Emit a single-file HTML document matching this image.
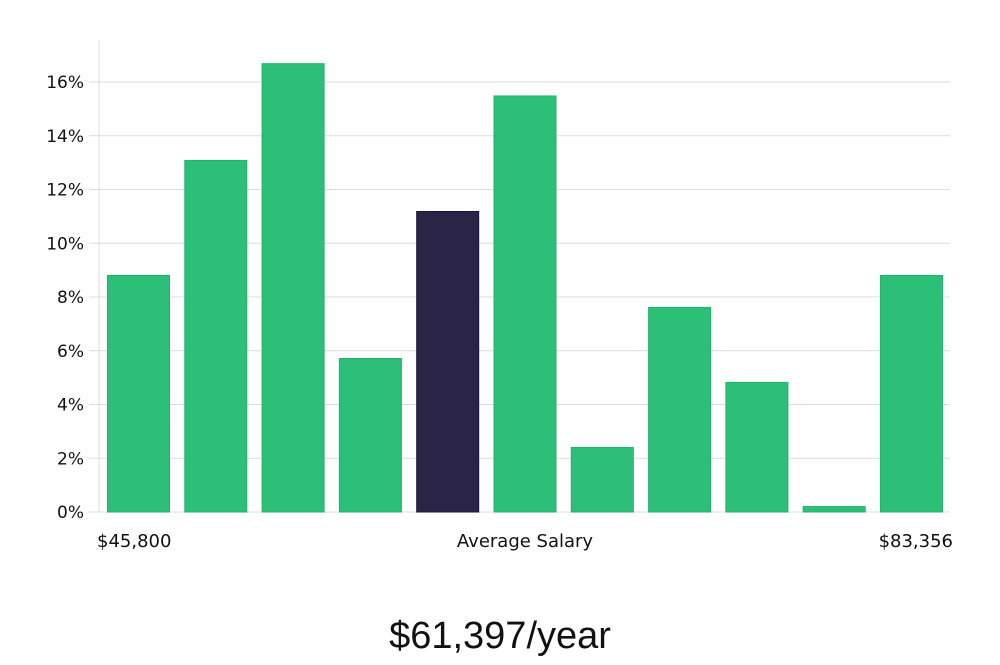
<!DOCTYPE html>
<html><head><meta charset="utf-8"><style>
body{margin:0;background:#fff;width:1000px;height:660px;overflow:hidden}
svg text{font-family:"DejaVu Sans","Liberation Sans",sans-serif}
</style></head><body>
<svg id="chart" width="1000" height="660" xmlns="http://www.w3.org/2000/svg">
<g id="grid"></g>
<g id="yaxis"></g>
<g id="bars"></g>
<text x="97" y="547" font-size="18" fill="#111">$45,800</text>
<text x="525" y="547" font-size="18" fill="#111" text-anchor="middle">Average Salary</text>
<text x="953" y="547" font-size="18" fill="#111" text-anchor="end">$83,356</text>
<text x="500" y="648" font-size="38" fill="#111" text-anchor="middle" style="font-family:'Liberation Sans',sans-serif;font-weight:300">$61,397/year</text>
</svg>
<script>
const values = [8.82, 13.1, 16.7, 5.73, 11.2, 15.5, 2.42, 7.63, 4.84, 0.22, 8.82];
const highlightIndex = 4;
const yTicks = [0, 2, 4, 6, 8, 10, 12, 14, 16];
const NS = "http://www.w3.org/2000/svg";
const y0 = 512, pxPerUnit = 26.875;
const y = v => y0 - v * pxPerUnit;
const x = i => 107 + i * 77.3;
const grid = document.getElementById('grid');
const ya = document.getElementById('yaxis');
const bars = document.getElementById('bars');
function mk(tag, attrs, parent){const e=document.createElementNS(NS,tag);for(const k in attrs)e.setAttribute(k,attrs[k]);parent.appendChild(e);return e;}
yTicks.forEach(t=>{
  const l = mk('line',{x1:89,x2:950,y1:y(t),y2:y(t),stroke:'#dcdcdc','stroke-width':1},grid);
  
  
  const tx = mk('text',{x:84,y:y(t)+6,'font-size':17,fill:'#111','text-anchor':'end'},ya);
  tx.textContent = t + '%';
  
  
});
const ax = mk('line',{x1:99,x2:99,y1:40,y2:512,stroke:'#dcdcdc','stroke-width':1},ya);


values.forEach((v,i)=>{
  const hi = i===highlightIndex;
  const r = mk('rect',{x:x(i)+0.5,y:y(v)+0.5,width:62,height:y0-y(v)-0.5,fill:hi?'#2a2547':'#2bbf78',stroke:hi?'#16133a':'#22b26c','stroke-width':1},bars);
  
  
});
</script>
</body></html>
